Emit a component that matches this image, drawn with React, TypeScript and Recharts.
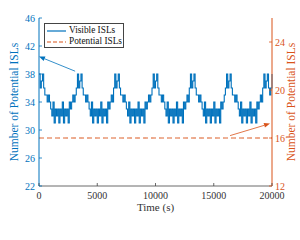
import React from 'react';
import { ComposedChart, Line, XAxis, YAxis, ReferenceLine, Legend } from 'recharts';

const SAMPLE_STEP = 100;
const visibleISLs = [
  38, 36, 37, 38, 36, 35, 35, 34, 35, 34,
  33, 32, 34, 31, 33, 32, 33, 31, 33, 32,
  34, 31, 33, 32, 33, 31, 34, 33, 34, 35,
  34, 35, 36, 38, 36, 37, 38, 36, 35, 35,
  34, 35, 34, 33, 32, 34, 31, 33, 32, 33,
  31, 33, 32, 34, 31, 33, 32, 33, 31, 34,
  33, 34, 35, 34, 36, 38, 36, 37, 38, 36,
  35, 35, 34, 35, 34, 33, 32, 34, 31, 33,
  32, 33, 31, 33, 32, 34, 31, 33, 32, 33,
  31, 34, 33, 34, 35, 34, 35, 36, 38, 36,
  37, 38, 36, 35, 35, 34, 35, 34, 33, 32,
  34, 31, 33, 32, 33, 31, 33, 32, 34, 31,
  33, 32, 33, 31, 34, 33, 34, 35, 34, 36,
  38, 36, 37, 38, 36, 35, 35, 34, 35, 34,
  33, 32, 34, 31, 33, 32, 33, 31, 33, 32,
  34, 31, 33, 32, 33, 31, 34, 33, 34, 35,
  36, 38, 36, 37, 38, 36, 35, 35, 34, 35,
  34, 33, 32, 34, 31, 33, 32, 33, 31, 33,
  32, 34, 31, 33, 32, 33, 31, 34, 33, 34,
  35, 34, 36, 38, 36, 37, 38, 36, 35, 36,
  38,
];
const potentialISLs = 16;
const xTicks = [0, 5000, 10000, 15000, 20000];
const leftTicks = [22, 26, 30, 34, 38, 42, 46];
const rightTicks = [12, 16, 20, 24];

const blueArrow = [{ x: 3100, y: 38.4 }, { x: 0, y: 40.5 }];
const orangeArrow = [{ x: 16400, y: 16.2 }, { x: 19830, y: 17.2 }];

const data = visibleISLs.map((v, i) => ({ t: i * SAMPLE_STEP, visible: v, potential: potentialISLs }));

const BLUE = '#0072BD';
const ORANGE = '#D95319';
const FONT = '"Liberation Serif", "Times New Roman", serif';

const makeArrow = (color: string) => (p: any) => {
  const { x1, y1, x2, y2 } = p;
  const ang = Math.atan2(y2 - y1, x2 - x1);
  const L = 6;
  const W = 2.4;
  const bx = x2 - L * Math.cos(ang);
  const by = y2 - L * Math.sin(ang);
  const px = -Math.sin(ang) * W;
  const py = Math.cos(ang) * W;
  return (
    <g>
      <line x1={x1} y1={y1} x2={bx} y2={by} stroke={color} strokeWidth={0.8} />
      <polygon points={`${x2},${y2} ${bx + px},${by + py} ${bx - px},${by - py}`} fill={color} />
    </g>
  );
};

const LeftTick = (p: any) => {
  const { x, y, payload } = p;
  return (
    <g>
      <line x1={x + 4} x2={x + 7} y1={y} y2={y} stroke={BLUE} strokeWidth={0.8} />
      <text x={x} y={y} dy="0.35em" textAnchor="end" fill={BLUE} fontSize={10} fontFamily={FONT}>{payload.value}</text>
    </g>
  );
};

const RightTick = (p: any) => {
  const { x, y, payload } = p;
  return (
    <g>
      <line x1={x - 3} x2={x - 6} y1={y} y2={y} stroke={ORANGE} strokeWidth={0.8} />
      <text x={x} y={y} dy="0.35em" textAnchor="start" fill={ORANGE} fontSize={10} fontFamily={FONT}>{payload.value}</text>
    </g>
  );
};

const BottomTick = (p: any) => {
  const { x, y, payload } = p;
  return (
    <g>
      <line x1={x} x2={x} y1={y - 6} y2={y - 9} stroke="#444" strokeWidth={0.8} />
      <text x={x} y={y} dy="0.71em" textAnchor="middle" fill="#333" fontSize={10} fontFamily={FONT}>{payload.value}</text>
    </g>
  );
};

const TopTick = (p: any) => {
  const { x, y } = p;
  return <line x1={x} x2={x} y1={y} y2={y + 3} stroke="#888" strokeWidth={0.8} />;
};

const rowStyle: React.CSSProperties = { display: 'flex', alignItems: 'center', height: 11, whiteSpace: 'nowrap' };

const LegendBox = () => (
  <div
    style={{
      border: '0.8px solid #444',
      background: '#fff',
      width: 80,
      height: 25,
      boxSizing: 'border-box',
      fontFamily: FONT,
      fontSize: 9.3,
      color: '#111',
      lineHeight: '11px',
      paddingTop: 1,
      overflow: 'visible',
    }}
  >
    <div style={rowStyle}>
      <svg width={23} height={6} style={{ marginLeft: 1, flexShrink: 0 }}>
        <line x1={1} x2={20} y1={3} y2={3} stroke={BLUE} strokeWidth={1.2} />
      </svg>
      <span>Visible ISLs</span>
    </div>
    <div style={rowStyle}>
      <svg width={23} height={6} style={{ marginLeft: 1, flexShrink: 0 }}>
        <line x1={1} x2={20} y1={3} y2={3} stroke={ORANGE} strokeWidth={1} strokeDasharray="4 2" />
      </svg>
      <span>Potential ISLs</span>
    </div>
  </div>
);

export default function App() {
  return (
    <div style={{ position: 'absolute', left: 0, top: 0, width: 300, height: 240, background: '#fff' }}>
      <ComposedChart width={300} height={240} data={data} margin={{ top: 18, right: 0, bottom: 0, left: 0 }}>
        <XAxis
          dataKey="t"
          type="number"
          domain={[0, 20000]}
          ticks={xTicks}
          height={29}
          tickSize={0}
          tickMargin={6}
          tick={BottomTick}
          axisLine={{ stroke: '#444', strokeWidth: 0.8 }}
          tickLine={false}
          interval={0}
          label={{ value: 'Time (s)', position: 'insideBottom', offset: 4, fill: '#333', fontSize: 11, fontFamily: FONT }}
        />
        <XAxis
          xAxisId="top"
          orientation="top"
          dataKey="t"
          type="number"
          domain={[0, 20000]}
          ticks={xTicks}
          height={0}
          tickSize={0}
          tickMargin={0}
          tick={TopTick}
          tickLine={false}
          axisLine={{ stroke: '#999', strokeWidth: 0.8 }}
          interval={0}
        />
        <YAxis
          yAxisId="left"
          domain={[22, 46]}
          ticks={leftTicks}
          width={39}
          tickSize={0}
          tickMargin={4}
          tick={LeftTick}
          tickLine={false}
          interval={0}
          axisLine={{ stroke: BLUE, strokeWidth: 1 }}
          label={{
            value: 'Number of Potential ISLs',
            angle: -90,
            position: 'insideLeft',
            offset: 14,
            fill: BLUE,
            fontSize: 11.5,
            fontFamily: FONT,
            style: { textAnchor: 'middle' },
          }}
        />
        <YAxis
          yAxisId="right"
          orientation="right"
          domain={[12, 26]}
          ticks={rightTicks}
          width={28}
          tickSize={0}
          tickMargin={3}
          tick={RightTick}
          tickLine={false}
          interval={0}
          axisLine={{ stroke: ORANGE, strokeWidth: 1 }}
          label={{
            value: 'Number of Potential ISLs',
            angle: -90,
            position: 'insideRight',
            offset: 9,
            fill: ORANGE,
            fontSize: 11.5,
            fontFamily: FONT,
            style: { textAnchor: 'middle' },
          }}
        />
        <Line
          yAxisId="left"
          dataKey="visible"
          type="stepAfter"
          stroke={BLUE}
          strokeWidth={1.1}
          dot={false}
          isAnimationActive={false}
        />
        <Line
          yAxisId="right"
          dataKey="potential"
          type="linear"
          stroke={ORANGE}
          strokeWidth={1}
          strokeDasharray="5 3"
          dot={false}
          isAnimationActive={false}
        />
        <ReferenceLine yAxisId="left" segment={blueArrow} ifOverflow="visible" shape={makeArrow(BLUE)} />
        <ReferenceLine yAxisId="right" segment={orangeArrow} ifOverflow="visible" shape={makeArrow(ORANGE)} />
        <Legend
          content={LegendBox}
          wrapperStyle={{ position: 'absolute', left: 44, top: 23, width: 80, height: 25 }}
        />
      </ComposedChart>
    </div>
  );
}
